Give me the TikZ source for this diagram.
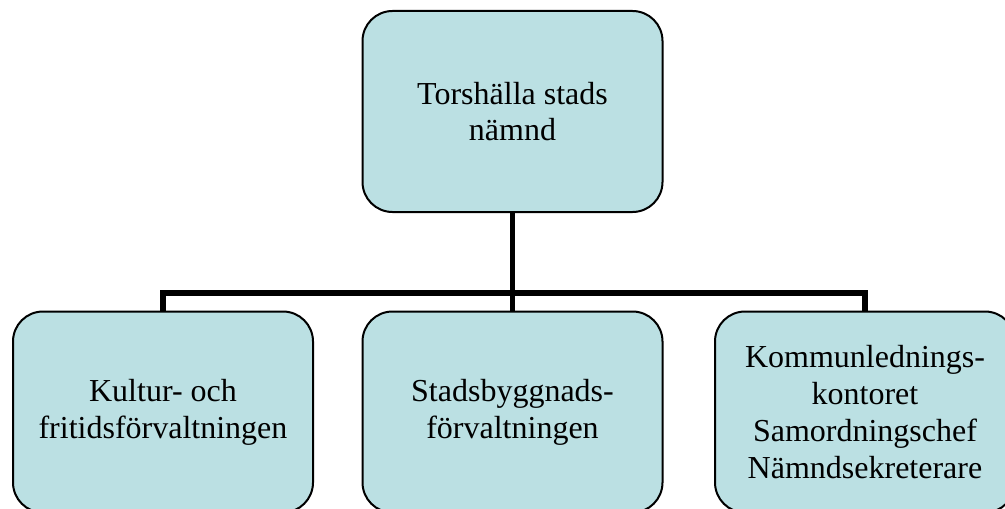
\documentclass[tikz,border=0pt]{standalone}
\usepackage{fontspec}
\setmainfont{Liberation Serif}
\definecolor{boxblue}{RGB}{187,224,227}
\begin{document}
\begin{tikzpicture}
        [x=0.5pt,y=-0.5pt,
         every node/.style={draw=black, line width=1pt, fill=boxblue, rounded corners=15pt,
           minimum width=150pt, minimum height=100.5pt, inner sep=0pt, align=center,
           font=\fontsize{16}{18.4}\selectfont},
         conn/.style={line width=2.6pt, line join=miter}]
      \useasboundingbox (0,0) rectangle (1005,508);
      \node (top)  at (512.5,111.5) {Torshälla stads\\nämnd};
      \node (kult) at (163,412) {Kultur- och\\fritidsförvaltningen};
      \node (stad) at (512.5,412) {Stadsbyggnads-\\förvaltningen};
      \node (komm) at (865,412) {Kommunlednings-\\kontoret\\Samordningschef\\Nämndsekreterare};

      \foreach \to in {kult, stad, komm}
        \draw[conn] (top.south) -- ++(0,80) -| (\to.north);
    \end{tikzpicture}
\end{document}
